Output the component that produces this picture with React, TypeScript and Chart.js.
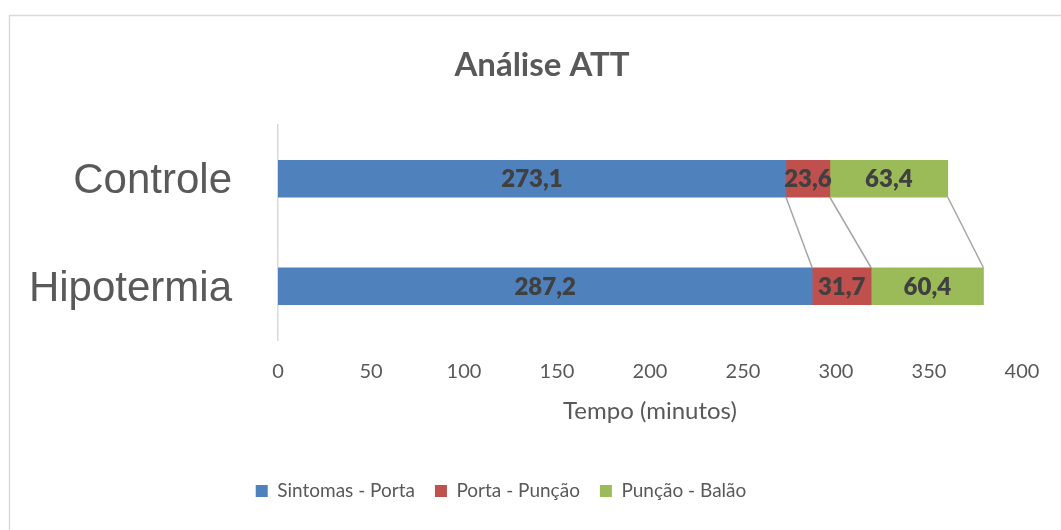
import { useEffect, useRef } from "react";
import { Chart, registerables } from "chart.js";

Chart.register(...registerables);

const chartTitle = "Análise ATT";
const axisTitle = "Tempo (minutos)";
const categories = ["Controle", "Hipotermia"];
const seriesNames = ["Sintomas - Porta", "Porta - Punção", "Punção - Balão"];
const sintomasPorta = [273.1, 287.2];
const portaPuncao = [23.6, 31.7];
const puncaoBalao = [63.4, 60.4];
const seriesColors = ["#4f81bd", "#c0504d", "#9bbb59"];
const xMin = 0;
const xMax = 400;
const xStep = 50;

const GRAY = "#595959";
const SANS = "Lato, 'Open Sans', sans-serif";

const framePlugin = {
  id: "frame",
  beforeDraw(chart: any) {
    const { ctx, width, height } = chart;
    ctx.save();
    ctx.fillStyle = "#ffffff";
    ctx.fillRect(0, 0, width, height);
    ctx.strokeStyle = "#d9d9d9";
    ctx.lineWidth = 1.5;
    ctx.beginPath();
    ctx.moveTo(9.5, height);
    ctx.lineTo(9.5, 15.5);
    ctx.lineTo(width, 15.5);
    ctx.stroke();
    ctx.restore();
  },
};

const seriesLinesPlugin = {
  id: "seriesLines",
  afterDatasetsDraw(chart: any) {
    const { ctx } = chart;
    ctx.save();
    ctx.strokeStyle = "#a6a6a6";
    ctx.lineWidth = 1.5;
    chart.data.datasets.forEach((_: any, i: number) => {
      const meta = chart.getDatasetMeta(i);
      for (let j = 0; j < meta.data.length - 1; j++) {
        const a = meta.data[j];
        const b = meta.data[j + 1];
        ctx.beginPath();
        ctx.moveTo(a.x, a.y + a.height / 2);
        ctx.lineTo(b.x, b.y - b.height / 2);
        ctx.stroke();
      }
    });
    ctx.restore();
  },
};

const dataLabelsPlugin = {
  id: "dataLabels",
  afterDatasetsDraw(chart: any) {
    const { ctx } = chart;
    ctx.save();
    ctx.font = `800 24px ${SANS}`;
    ctx.fillStyle = "#404040";
    ctx.textAlign = "center";
    ctx.textBaseline = "middle";
    chart.data.datasets.forEach((ds: any, i: number) => {
      const meta = chart.getDatasetMeta(i);
      meta.data.forEach((el: any, j: number) => {
        const c = el.getCenterPoint();
        const txt = Number(ds.data[j]).toFixed(1).replace(".", ",");
        ctx.fillText(txt, c.x, c.y + 1);
      });
    });
    ctx.restore();
  },
};

const legendShiftPlugin = {
  id: "legendShift",
  afterLayout(chart: any) {
    const lg = chart.legend;
    if (lg) {
      lg.left -= 41;
      lg.right -= 41;
    }
  },
};

export default function App() {
  const ref = useRef<HTMLCanvasElement | null>(null);

  useEffect(() => {
    if (!ref.current) return;
    const values = [sintomasPorta, portaPuncao, puncaoBalao];
    const chart = new Chart(ref.current, {
      type: "bar",
      data: {
        labels: categories,
        datasets: seriesNames.map((name, i) => ({
          label: name,
          data: values[i],
          backgroundColor: seriesColors[i],
          borderWidth: 0,
          barThickness: 37,
        })),
      },
      options: {
        indexAxis: "y",
        responsive: false,
        animation: false,
        layout: { padding: { left: 23, right: 0, top: 0, bottom: 19.5 } },
        plugins: {
          title: {
            display: true,
            text: chartTitle,
            color: GRAY,
            font: { family: SANS, size: 33, weight: "bold" },
            padding: { top: 46, bottom: 39.4 },
          },
          legend: {
            display: true,
            position: "bottom",
            labels: {
              color: GRAY,
              font: { family: SANS, size: 19 },
              boxWidth: 12,
              boxHeight: 12,
              padding: 20,
            },
          },
          tooltip: { enabled: false },
        },
        scales: {
          x: {
            type: "linear",
            stacked: true,
            min: xMin,
            max: xMax,
            grid: { display: false, drawTicks: false },
            border: { display: false },
            ticks: {
              stepSize: xStep,
              color: GRAY,
              font: { family: SANS, size: 20 },
              padding: 20,
            },
            title: {
              display: true,
              text: axisTitle,
              color: GRAY,
              font: { family: SANS, size: 24 },
              padding: { top: 12.6, bottom: 36.1 },
            },
            afterFit(scale: any) {
              scale.height = 121.5;
            },
          },
          y: {
            type: "category",
            stacked: true,
            grid: { display: false, drawTicks: false },
            border: { display: true, color: "#d9d9d9", width: 1.5 },
            ticks: {
              color: GRAY,
              font: { family: "'Liberation Sans', Arial, sans-serif", size: 42 },
              padding: 46,
              labelOffset: 3,
            },
            afterFit(scale: any) {
              scale.width = 255;
            },
          },
          yRight: {
            type: "linear",
            position: "right",
            display: true,
            grid: { display: false, drawTicks: false },
            border: { display: false },
            ticks: { display: false },
            afterFit(scale: any) {
              scale.width = 39;
            },
          },
        },
      },
      plugins: [framePlugin, seriesLinesPlugin, dataLabelsPlugin, legendShiftPlugin],
    } as any);
    return () => chart.destroy();
  }, []);

  return (
    <div style={{ position: "fixed", left: 0, top: 0, width: 1061, height: 530 }}>
      <canvas ref={ref} width={1061} height={530} style={{ width: 1061, height: 530, display: "block" }} />
    </div>
  );
}
